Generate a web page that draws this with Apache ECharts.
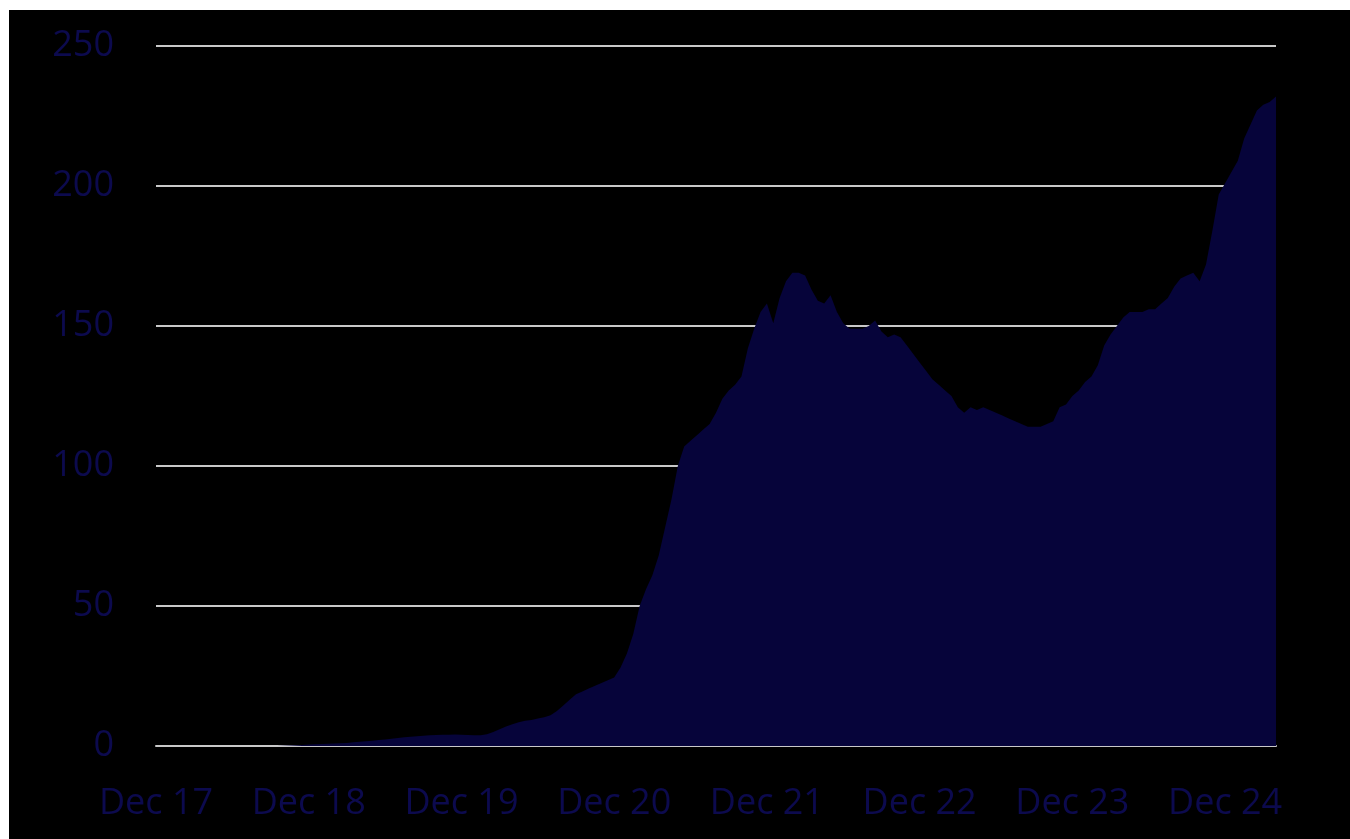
<!DOCTYPE html>
<html>
<head>
<meta charset="utf-8">
<script src="https://cdn.jsdelivr.net/npm/echarts@6/dist/echarts.min.js"></script>
<style>
  html, body { margin: 0; padding: 0; background: #ffffff; }
  #chart { position: absolute; left: 9px; top: 10px; width: 1341px; height: 829px; background: #000000; }
</style>
</head>
<body>
<div id="chart"></div>
<script>
// Half-monthly observations from Dec 2017 to Apr 2025
const startYear = 2017, startMonth = 11; // December 2017
const tickLabels = ['Dec 17', 'Dec 18', 'Dec 19', 'Dec 20', 'Dec 21', 'Dec 22', 'Dec 23', 'Dec 24'];
const yTicks = [0, 50, 100, 150, 200, 250];

const values = [
  // Dec 17 - Nov 18
  0, 0, 0, 0, 0, 0, 0, 0, 0, 0, 0, 0,
  0, 0, 0, 0, 0, 0, 0, 0, 0.1, 0.2, 0.3, 0.4,
  // Dec 18 - Nov 19
  0.5, 0.6, 0.7, 0.8, 0.9, 1.0, 1.1, 1.3, 1.5, 1.7, 1.9, 2.1,
  2.3, 2.6, 2.9, 3.1, 3.3, 3.5, 3.7, 3.8, 3.9, 4.0, 4.0, 4.1,
  // Dec 19 - Nov 20
  4.0, 3.9, 3.8, 3.8, 4.2, 5.0, 6.0, 7.0, 7.8, 8.5, 9.0, 9.3,
  9.8, 10.3, 11.0, 12.5, 14.5, 16.5, 18.5, 19.5, 20.5, 21.5, 22.5, 23.5,
  // Dec 20 - Nov 21
  24.5, 28, 33, 40, 50, 56, 61, 68, 78, 88, 100, 107,
  109, 111, 113, 115, 119, 124, 127, 129, 132, 142, 149, 155,
  // Dec 21 - Nov 22
  158, 151, 160, 166, 169, 169, 168, 163, 159, 158, 161, 155,
  151, 149, 149, 149, 150, 152, 148, 146, 147, 146, 143, 140,
  // Dec 22 - Nov 23
  137, 134, 131, 129, 127, 125, 121, 119, 121, 120, 121, 120,
  119, 118, 117, 116, 115, 114, 114, 114, 115, 116, 121, 122,
  // Dec 23 - Nov 24
  125, 127, 130, 132, 136, 143, 147, 150, 153, 155, 155, 155,
  156, 156, 158, 160, 164, 167, 168, 169, 166, 172, 184, 197,
  // Dec 24 - Apr 25
  201, 205, 209, 217, 222, 227, 229, 230, 232
];

// Category axis: one entry per half month
const categories = values.map((_, i) => {
  const m = startMonth + Math.floor(i / 2);
  const y = startYear + Math.floor(m / 12);
  const mm = (m % 12) + 1;
  return y + '-' + String(mm).padStart(2, '0') + (i % 2 === 0 ? '-01' : '-16');
});

const labelColor = '#0c0a4e';
const font = '"Open Sans", "Noto Sans", sans-serif';

const chart = echarts.init(document.getElementById('chart'));
chart.setOption({
  backgroundColor: '#000000',
  animation: false,
  grid: { left: 147, right: 74, top: 36, bottom: 93, containLabel: false },
  xAxis: {
    type: 'category',
    data: categories,
    boundaryGap: false,
    axisLine: { show: true, lineStyle: { color: '#c8c8c8', width: 2 } },
    axisTick: { show: false },
    splitLine: { show: false },
    axisLabel: {
      interval: 23,
      margin: 40,
      color: labelColor,
      fontFamily: font,
      fontSize: 36,
      formatter: (v, i) => (i % 24 === 0 ? tickLabels[i / 24] : '')
    }
  },
  yAxis: {
    type: 'value',
    min: yTicks[0],
    max: yTicks[yTicks.length - 1],
    interval: 50,
    axisLine: { show: false },
    axisTick: { show: false },
    splitLine: { show: true, lineStyle: { color: '#c8c8c8', width: 2 } },
    axisLabel: {
      margin: 42,
      color: labelColor,
      fontFamily: font,
      fontSize: 36
    }
  },
  series: [{
    type: 'line',
    data: values,
    showSymbol: false,
    symbol: 'none',
    lineStyle: { width: 0 },
    itemStyle: { color: '#06043a' },
    areaStyle: { color: '#06043a', opacity: 1 }
  }]
});
</script>
</body>
</html>
